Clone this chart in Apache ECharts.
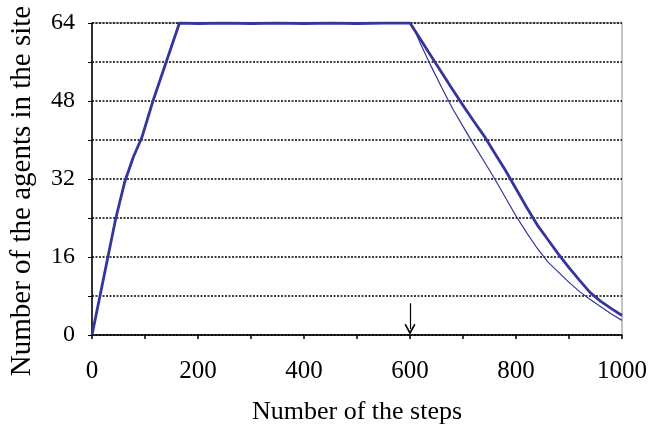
<!DOCTYPE html>
<html>
<head>
<meta charset="utf-8">
<script src="https://cdn.jsdelivr.net/npm/echarts@6/dist/echarts.min.js"></script>
<style>
  html, body { margin: 0; padding: 0; background: #fff; }
  #chart { width: 663px; height: 430px; }
</style>
</head>
<body>
<div id="chart"></div>
<script>
var steps = [0, 15, 30, 45, 62, 78, 94, 115, 140, 165, 200, 250, 300, 350, 400, 450, 500, 550, 600,
  610, 620, 640, 660, 680, 700, 720, 740, 760, 780, 800, 820, 840, 860, 880, 900, 920, 940, 960, 980, 1000];
// thick curve
var runA = [0, 8, 16, 24, 31.5, 36.5, 40.5, 48, 56, 64, 63.9, 64, 63.9, 64, 63.9, 64, 63.9, 64, 64,
  62.3, 60.6, 57.2, 53.8, 50.4, 47.1, 43.9, 40.8, 37.3, 33.8, 30, 26.2, 22.6, 19.6, 16.6, 13.8, 11.2, 8.7, 6.9, 5.4, 4];
// thin curve
var runB = [0, 8, 16, 24, 31.5, 36.5, 40.5, 48, 56, 64, 63.9, 64, 63.9, 64, 63.9, 64, 63.9, 64, 64,
  62.2, 59.7, 55.1, 50.7, 46.5, 42.8, 39.1, 35.6, 32, 28.2, 24.4, 21, 17.8, 15, 12.9, 10.8, 8.9, 7.3, 5.8, 4.3, 3];
var yLabels = [0, 16, 32, 48, 64];
var xLabels = [0, 200, 400, 600, 800, 1000];
var arrowStep = 600;

function pairs(ys) {
  return steps.map(function (s, i) { return [s, ys[i]]; });
}

var font = '"Liberation Serif", "DejaVu Serif", serif';
var lineColor = '#35359c';

var chart = echarts.init(document.getElementById('chart'), null, { renderer: 'canvas' });
chart.setOption({
  animation: false,
  backgroundColor: '#fff',
  grid: { left: 92, right: 41, top: 23, bottom: 91, show: true, borderColor: '#888', borderWidth: 1 },
  graphic: [{
    type: 'text', rotation: Math.PI / 2,
    x: 22, y: 191,
    style: {
      text: 'Number of the agents in the site', font: '29px ' + font, fill: '#000',
      align: 'center', verticalAlign: 'middle'
    }
  }],
  xAxis: {
    type: 'value', min: 0, max: 1000, interval: 100,
    name: 'Number of the steps', nameLocation: 'middle', nameGap: 64,
    nameTextStyle: { fontFamily: font, fontSize: 26, color: '#000' },
    axisLine: { lineStyle: { color: '#000', width: 1.5 } },
    axisTick: { length: 4, lineStyle: { color: '#000', width: 1.5 } },
    axisLabel: {
      margin: 24, fontFamily: font, fontSize: 25, color: '#000',
      formatter: function (v) { return xLabels.indexOf(v) >= 0 ? String(v) : ''; }
    },
    splitLine: { show: false }
  },
  yAxis: {
    type: 'value', min: 0, max: 64, interval: 8,
    axisLine: { show: true, lineStyle: { color: '#000', width: 1.5 } },
    axisTick: { show: true, length: 4, lineStyle: { color: '#000', width: 1 } },
    axisLabel: {
      margin: 17, fontFamily: font, fontSize: 24, color: '#000',
      formatter: function (v) { return yLabels.indexOf(v) >= 0 ? String(v) : ''; }
    },
    splitLine: { show: true, lineStyle: { color: '#000', width: 1.5, type: [2, 1.5] } }
  },
  series: [
    {
      type: 'line', data: pairs(runB), showSymbol: false, z: 2,
      lineStyle: { color: lineColor, width: 1.2 }
    },
    {
      type: 'line', data: pairs(runA), showSymbol: false, z: 3,
      lineStyle: { color: lineColor, width: 2.8 },
      markLine: {
        silent: true,
        symbol: ['none', 'path://M5,0 L10,9 L8.8,10 L5,3.2 L1.2,10 L0,9 Z'],
        symbolSize: [11, 11],
        label: { show: false },
        lineStyle: { color: '#000', width: 1.2, type: 'solid' },
        data: [[{ coord: [arrowStep, 6.5] }, { coord: [arrowStep, 1.2] }]]
      }
    }
  ]
});
</script>
</body>
</html>
